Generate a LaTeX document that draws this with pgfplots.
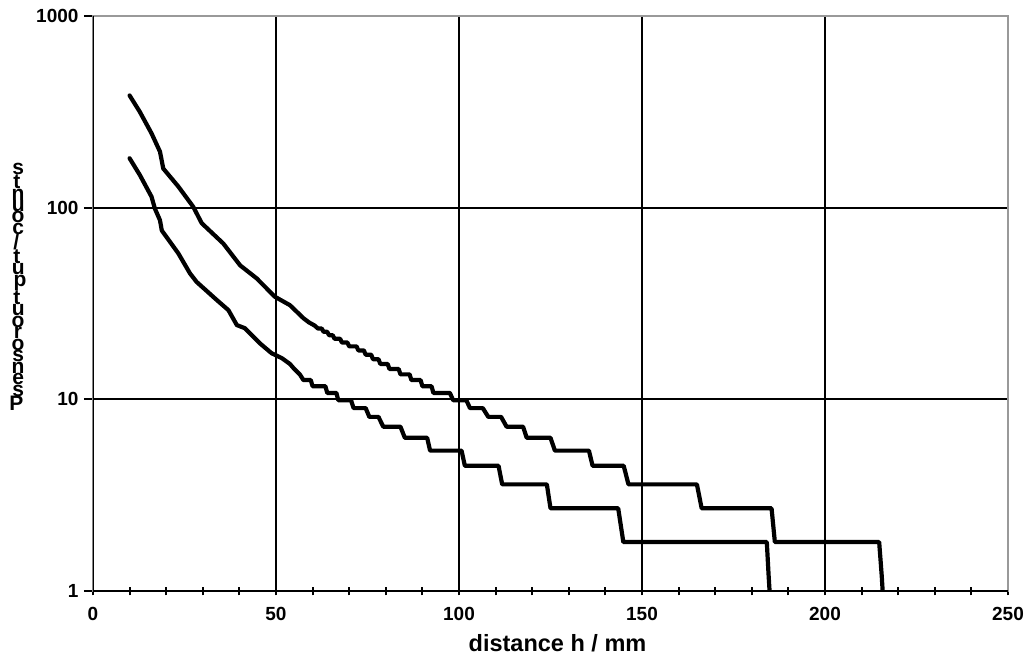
\documentclass[border=0pt]{standalone}
\usepackage{pgfplots}
\pgfplotsset{compat=1.18}
\usepackage{fontspec}
\setmainfont{Liberation Sans}
\usepackage{graphicx}

% one letter of the y label, turned upright inside a rotated node
\newcommand\up[1]{\rotatebox[origin=c]{-90}{#1}}
\newcommand\tickfont{\fontsize{19}{22}\selectfont\bfseries}

\begin{document}
\begin{tikzpicture}[x=1pt,y=1pt]
\begin{axis}[
    scale only axis,
    width=915pt, height=575pt,
    xmin=0, xmax=250,
    ymode=log, ymin=1, ymax=1000,
    xtick={0,50,100,150,200,250},
    xticklabels={0,50,100,150,200,250},
    minor xtick={10,20,30,40,60,70,80,90,110,120,130,140,160,170,180,190,210,220,230,240},
    ytick={1,10,100,1000},
    yticklabels={1,10,100,1000},
    yminorticks=false,
    grid=major,
    major grid style={black, line width=2pt},
    axis line style={gray!80, line width=2.5pt},
    x tick style={black, line width=2pt},
    y tick style={black, line width=2pt},
    xtick align=center,
    ytick align=outside,
    xtick pos=bottom, ytick pos=left,
    major tick length=9pt, minor tick length=9pt,
    xticklabel style={font=\tickfont, yshift=-8pt},
    yticklabel style={font=\tickfont, xshift=-2pt},
    xlabel={distance h / mm},
    xlabel style={font=\fontsize{23.5}{26}\selectfont\bfseries, yshift=-7pt, xshift=7pt},
    clip=true,
]
% left and bottom axis lines are black, top and right grey
\draw[black, line width=2.5pt] (rel axis cs:0,1) -- (rel axis cs:0,0) -- (rel axis cs:1,0);

% upper curve
\addplot[black, line width=4.2pt, line join=round, line cap=round] coordinates {
(10,385) (12.8,316) (16,244) (18.3,196) (19.2,160) (23.3,129) (27.4,101)
(29.7,83) (35.6,65) (40.2,50) (44.7,42.8) (49.7,34.3) (53.8,31) (57.5,26.5)
(59,25.2) (60.5,24.3) (61.5,23.4) (62.5,23.4) (63,22.5) (64,22.5) (64.5,21.6)
(65.5,21.6) (66,20.7) (67.5,20.7) (68,19.8) (69.5,19.8) (70,18.9) (72,18.9)
(72.5,18.0) (74,18.0) (74.5,17.1) (76,17.1) (76.5,16.2) (78,16.2) (78.5,15.3)
(80.5,15.3) (81,14.4) (83.5,14.4) (84,13.5) (86.5,13.5) (87,12.6) (89.5,12.6)
(90,11.7) (92.5,11.7) (93,10.8) (97.5,10.8) (98.4,9.9) (102,9.9) (103,9.0)
(106.5,9.0) (108,8.1) (111.5,8.1) (113,7.2) (117.5,7.2) (118.5,6.3) (125,6.3)
(126.2,5.4) (135.5,5.4) (136.5,4.5) (145,4.5) (146.3,3.6) (165,3.6) (166.3,2.7)
(185.4,2.7) (186.3,1.8) (214.8,1.8) (215.5,1.2) (215.9,0.9)
};

% lower curve
\addplot[black, line width=4.2pt, line join=round, line cap=round] coordinates {
(10,181) (12.8,148) (16,114) (16.9,99) (18.3,86) (18.8,76) (23.3,57.8)
(26.5,45.4) (28.3,41) (33.8,33) (37,29.2) (39.3,24.4) (41.5,23.5) (45.6,19.6)
(48.8,17.4) (51.6,16.4) (53.8,15.3) (55,14.4) (56.5,13.5) (57.5,12.6)
(59.5,12.6) (60,11.7) (63.5,11.7) (64,10.8) (66.5,10.8) (67,9.9) (70.5,9.9)
(71.2,9.0) (74.5,9.0) (75.5,8.1) (78,8.1) (79.3,7.2) (84,7.2) (85.2,6.3)
(91.3,6.3) (92.1,5.4) (100.7,5.4) (101.6,4.5) (110.8,4.5) (111.8,3.6)
(124,3.6) (125,2.7) (143.5,2.7) (144.9,1.8) (184.1,1.8) (184.6,1.2) (185,0.9)
};
\end{axis}

% y label: letters stacked upright, read from bottom to top
\node[rotate=90, inner sep=0pt, font=\fontsize{21}{24}\selectfont\bfseries]
  at ([shift={(-75pt,304pt)}]current axis.south west)
  {\up{P}\up{s}\up{e}\up{n}\up{s}\up{o}\up{r}\up{o}\up{u}\up{t}\up{p}\up{u}\up{t}\up{/}\up{c}\up{o}\up{u}\up{n}\up{t}\up{s}};

\pgfresetboundingbox
\path ([shift={(-93pt,-76pt)}]current axis.south west) rectangle ([shift={(25pt,16pt)}]current axis.north east);
\end{tikzpicture}
\end{document}
